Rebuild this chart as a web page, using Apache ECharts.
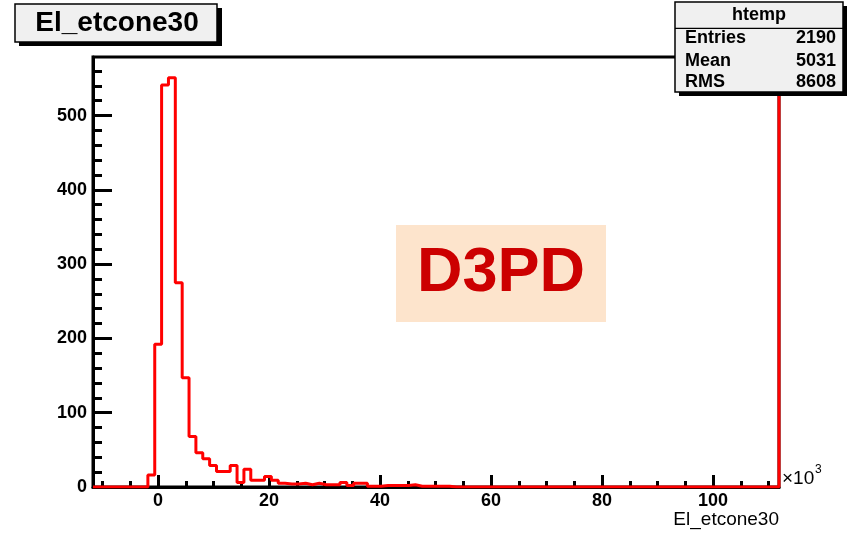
<!DOCTYPE html>
<html>
<head>
<meta charset="utf-8">
<script src="https://cdn.jsdelivr.net/npm/echarts@6/dist/echarts.min.js"></script>
<style>
html,body{margin:0;padding:0;background:#fff;}
#chart{width:855px;height:533px;}
</style>
</head>
<body>
<div id="chart"></div>
<script>
// ---- data ----
const XMIN = -11.72;          // x axis range (units of 10^3)
const XMAX = 111.88;
const YMAX = 578.8;
const NBINS = 100;
const counts = [
  0,0,0,0,0,0,0,0,16,192,
  541,551,275,147,68,46,38,29,21,21,
  29,6,24,9,9,14,9,5,4,4,
  5,3,5,3,3,3,6,2,5,5,
  1,1,2,2,2,2,3,1,1,1,
  1,1,0,0,0,0,0,0,0,0,
  0,0,0,0,0,0,0,0,0,0,
  0,0,0,0,0,0,0,0,0,0,
  0,0,0,0,0,0,0,0,0,0,
  0,0,0,0,0,0,0,0,0,0
];
const xTickLabels = [0, 20, 40, 60, 80, 100];
const xMinorTicks = [-10, -5, 5, 10, 15, 25, 30, 35, 45, 50, 55, 65, 70, 75, 85, 90, 95, 105, 110];
const yTickLabels = [0, 100, 200, 300, 400, 500];
const yMinorTicks = [20, 40, 60, 80, 120, 140, 160, 180, 220, 240, 260, 280, 320, 340, 360, 380, 420, 440, 460, 480, 520, 540, 560];
const titleText = 'El_etcone30';
const xAxisTitle = 'El_etcone30';
const statsTitle = 'htemp';
const statNames = ['Entries', 'Mean', 'RMS'];
const statValues = ['2190', '5031', '8608'];
const overlayText = 'D3PD';

// ---- build step outline ----
const binW = (XMAX - XMIN) / NBINS;
const stepData = counts.map((c, i) => [XMIN + i * binW, c]);
stepData.push([XMAX, counts[NBINS - 1]]);
stepData.push([XMAX, YMAX]); // red edge line drawn along right frame

const FONT = '"Liberation Sans", Arial, Helvetica, sans-serif';
const chart = echarts.init(document.getElementById('chart'), null, {renderer: 'canvas'});

const statsLeft = 675, statsRight = 843, statsTop = 2, statsBottom = 92;
const statRowsY = [38.5, 61, 82];

const graphics = [
  // title box
  {type: 'rect', z: 100, shape: {x: 19, y: 8, width: 203, height: 38}, style: {fill: '#000'}},
  {type: 'rect', z: 101, shape: {x: 15, y: 4, width: 202, height: 38}, style: {fill: '#f0f0f0', stroke: '#000', lineWidth: 1.5}},
  {type: 'text', z: 102, x: 117, y: 23, style: {text: titleText, font: 'bold 28px ' + FONT, fill: '#000', align: 'center', verticalAlign: 'middle'}},
  // stats box
  {type: 'rect', z: 100, shape: {x: statsLeft + 4, y: statsTop + 4, width: statsRight - statsLeft, height: statsBottom - statsTop}, style: {fill: '#000'}},
  {type: 'rect', z: 101, shape: {x: statsLeft, y: statsTop, width: statsRight - statsLeft, height: statsBottom - statsTop}, style: {fill: '#f0f0f0', stroke: '#000', lineWidth: 1.5}},
  {type: 'line', z: 102, shape: {x1: statsLeft, y1: 28.3, x2: statsRight, y2: 28.3}, style: {stroke: '#000', lineWidth: 1.2}},
  {type: 'text', z: 102, x: (statsLeft + statsRight) / 2, y: 15, style: {text: statsTitle, font: 'bold 18px ' + FONT, fill: '#000', align: 'center', verticalAlign: 'middle'}},
  // D3PD overlay
  {type: 'rect', z: 100, shape: {x: 396, y: 225, width: 210, height: 97}, style: {fill: '#fde4cc'}},
  {type: 'text', z: 101, x: 501, y: 274, style: {text: overlayText, font: 'bold 63px ' + FONT, fill: '#cc0000', align: 'center', verticalAlign: 'middle'}},
  // axis title & exponent
  {type: 'text', z: 100, x: 779, y: 520, style: {text: xAxisTitle, font: '19px ' + FONT, fill: '#000', align: 'right', verticalAlign: 'middle'}},
  {type: 'text', z: 100, x: 782, y: 479, style: {text: '\u00d710', font: '19px ' + FONT, fill: '#000', align: 'left', verticalAlign: 'middle'}},
  {type: 'text', z: 100, x: 815, y: 470, style: {text: '3', font: '12px ' + FONT, fill: '#000', align: 'left', verticalAlign: 'middle'}}
];
statNames.forEach((n, i) => {
  graphics.push({type: 'text', z: 102, x: 685, y: statRowsY[i], style: {text: n, font: 'bold 18px ' + FONT, fill: '#000', align: 'left', verticalAlign: 'middle'}});
  graphics.push({type: 'text', z: 102, x: 836, y: statRowsY[i], style: {text: statValues[i], font: 'bold 18px ' + FONT, fill: '#000', align: 'right', verticalAlign: 'middle'}});
});

const axisLineStyle = {color: '#000', width: 3};
chart.setOption({
  animation: false,
  backgroundColor: '#fff',
  grid: {left: 93, right: 76, top: 57, bottom: 46, show: true, borderColor: '#000', borderWidth: 3, backgroundColor: 'transparent'},
  xAxis: [
    {type: 'value', min: XMIN, max: XMAX, position: 'bottom',
     axisLine: {show: true, onZero: false, lineStyle: axisLineStyle},
     axisTick: {show: true, inside: true, length: 12, customValues: xTickLabels, lineStyle: {color: '#000', width: 3}},
     axisLabel: {show: true, customValues: xTickLabels, margin: 5, color: '#000', fontWeight: 'bold', fontSize: 18, fontFamily: FONT},
     splitLine: {show: false}},
    {type: 'value', min: XMIN, max: XMAX, position: 'bottom',
     axisLine: {show: false, onZero: false},
     axisTick: {show: true, inside: true, length: 6, customValues: xMinorTicks, lineStyle: {color: '#000', width: 3}},
     axisLabel: {show: false},
     splitLine: {show: false}}
  ],
  yAxis: [
    {type: 'value', min: 0, max: YMAX, position: 'left',
     axisLine: {show: true, onZero: false, lineStyle: axisLineStyle},
     axisTick: {show: true, inside: true, length: 19, customValues: yTickLabels, lineStyle: {color: '#000', width: 3}},
     axisLabel: {show: true, customValues: yTickLabels, margin: 6, color: '#000', fontWeight: 'bold', fontSize: 18, fontFamily: FONT},
     splitLine: {show: false}},
    {type: 'value', min: 0, max: YMAX, position: 'left',
     axisLine: {show: false, onZero: false},
     axisTick: {show: true, inside: true, length: 9, customValues: yMinorTicks, lineStyle: {color: '#000', width: 3}},
     axisLabel: {show: false},
     splitLine: {show: false}}
  ],
  series: [{
    type: 'line', xAxisIndex: 0, yAxisIndex: 0, step: 'end', data: stepData,
    showSymbol: false, symbol: 'none', clip: true,
    lineStyle: {color: '#ff0000', width: 3}
  }],
  graphic: graphics
});
</script>
</body>
</html>
